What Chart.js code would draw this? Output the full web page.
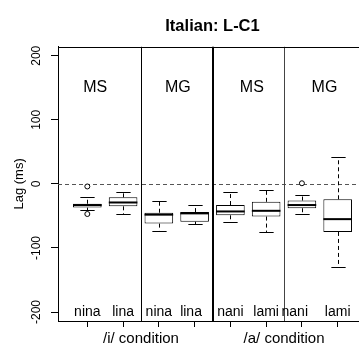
<!DOCTYPE html>
<html>
<head>
<meta charset="utf-8">
<script src="https://cdn.jsdelivr.net/npm/chart.js@4"></script>
<style>
  html, body { margin: 0; padding: 0; background: #fff; overflow: hidden; width: 359px; height: 345px; }
  canvas { display: block; }
</style>
</head>
<body>
<!-- the original plot runs past the right edge of the picture, so the canvas is wider and clipped -->
<canvas id="chart" width="372" height="345"></canvas>
<script>
// box positions and the word under each box
const positions = [1, 2, 3, 4, 5, 6, 7, 8];
const words = ['nina', 'lina', 'nina', 'lina', 'nani', 'lami', 'nani', 'lami'];
const wordPos = [1, 2, 3, 3.9, 5, 6, 6.8, 8];

// five-number summaries (ms)
const lowWhisker  = [-41, -47, -73, -63, -59, -75, -47, -129];
const lowerQ      = [-37, -35, -62, -59, -49, -51, -38, -75];
const medians     = [-33, -29, -48, -46, -43, -42, -33, -55];
const upperQ      = [-31, -21, -45, -44, -33, -28, -26, -24];
const highWhisker = [-21, -12, -26, -33, -12, -10, -17, 42];
const outliers = [{ x: 1, y: -4 }, { x: 1, y: -47 }, { x: 7, y: 1 }];

const blockLabels = ['MS', 'MG', 'MS', 'MG'];
const blockPos = [1.22, 3.53, 5.6, 7.63];
const blockY = 150;
const wordY = -200;
const dividers = [2.5, 4.5, 6.5];
const groupLabels = ['/i/ condition', '/a/ condition'];
const groupPos = [2.5, 6.5];
const yTicks = [-200, -100, 0, 100, 200];

const FONT = 'Liberation Sans, Arial, Helvetica, sans-serif';

const boxParts = {
  id: 'boxParts',
  beforeDatasetsDraw(chart) {
    const { ctx, chartArea: a, scales: { x, y } } = chart;
    const bars = chart.getDatasetMeta(0).data;
    ctx.save();
    ctx.lineWidth = 1;
    // dashed zero line
    ctx.strokeStyle = '#555';
    ctx.setLineDash([4, 3]);
    const y0 = Math.round(y.getPixelForValue(0)) + 0.5;
    ctx.beginPath(); ctx.moveTo(a.left, y0); ctx.lineTo(a.right, y0); ctx.stroke();
    // whiskers
    ctx.strokeStyle = '#000';
    positions.forEach((p, i) => {
      const px = Math.round(x.getPixelForValue(p)) + 0.5;
      ctx.setLineDash([4, 3]);
      ctx.beginPath();
      ctx.moveTo(px, y.getPixelForValue(upperQ[i])); ctx.lineTo(px, y.getPixelForValue(highWhisker[i]));
      ctx.moveTo(px, y.getPixelForValue(lowerQ[i])); ctx.lineTo(px, y.getPixelForValue(lowWhisker[i]));
      ctx.stroke();
      ctx.setLineDash([]);
      const half = bars[i].width / 4;
      ctx.beginPath();
      [highWhisker[i], lowWhisker[i]].forEach(v => {
        const py = Math.round(y.getPixelForValue(v)) + 0.5;
        ctx.moveTo(px - half, py); ctx.lineTo(px + half, py);
      });
      ctx.stroke();
    });
    ctx.restore();
  },
  afterDatasetsDraw(chart) {
    const { ctx, chartArea: a, scales: { x, y } } = chart;
    const bars = chart.getDatasetMeta(0).data;
    ctx.save();
    // medians
    ctx.strokeStyle = '#000';
    ctx.lineWidth = 2;
    positions.forEach((p, i) => {
      const px = x.getPixelForValue(p);
      const py = y.getPixelForValue(medians[i]);
      const w = bars[i].width / 2;
      ctx.beginPath(); ctx.moveTo(px - w, py); ctx.lineTo(px + w, py); ctx.stroke();
    });
    // block dividers and the rest of the frame
    dividers.forEach((d, i) => {
      ctx.lineWidth = i === 1 ? 2 : 1;
      ctx.strokeStyle = i === 2 ? '#444' : '#000';
      const px = Math.round(x.getPixelForValue(d)) + (i === 1 ? 0 : 0.5);
      ctx.beginPath(); ctx.moveTo(px, a.top); ctx.lineTo(px, a.bottom); ctx.stroke();
    });
    ctx.lineWidth = 1;
    ctx.strokeStyle = '#000';
    ctx.beginPath();
    ctx.moveTo(a.left, Math.round(a.top) + 0.5);
    ctx.lineTo(a.right - 0.5, Math.round(a.top) + 0.5);
    ctx.lineTo(a.right - 0.5, a.bottom);
    ctx.stroke();
    // labels inside the plot
    ctx.fillStyle = '#000';
    ctx.textAlign = 'center';
    ctx.textBaseline = 'middle';
    ctx.font = '16px ' + FONT;
    blockLabels.forEach((t, i) => ctx.fillText(t, x.getPixelForValue(blockPos[i]), y.getPixelForValue(blockY)));
    ctx.font = '14px ' + FONT;
    words.forEach((t, i) => ctx.fillText(t, x.getPixelForValue(wordPos[i]), y.getPixelForValue(wordY)));
    // group labels under the axis
    ctx.font = '15px ' + FONT;
    groupLabels.forEach((t, i) => ctx.fillText(t, x.getPixelForValue(groupPos[i]), a.bottom + 18));
    ctx.restore();
  }
};

new Chart(document.getElementById('chart'), {
  type: 'bar',
  data: {
    datasets: [{
      type: 'bar',
      data: positions.map((p, i) => ({ x: p, y: [lowerQ[i], upperQ[i]] })),
      backgroundColor: '#fff',
      borderColor: '#000',
      borderWidth: 1,
      borderSkipped: false,
      barPercentage: 1,
      categoryPercentage: 0.8
    }, {
      type: 'scatter',
      data: outliers,
      pointRadius: 2.5,
      pointBackgroundColor: '#fff',
      pointBorderColor: '#000',
      pointBorderWidth: 1
    }]
  },
  options: {
    responsive: false,
    animation: false,
    layout: { padding: 0 },
    plugins: {
      legend: { display: false },
      tooltip: { enabled: false },
      title: {
        display: true,
        text: 'Italian: L-C1',
        color: '#000',
        fullSize: false,
        font: { family: FONT, size: 16.5, weight: 'bold' },
        padding: { top: 17, bottom: 10 }
      }
    },
    scales: {
      x: {
        type: 'linear',
        position: 'bottom',
        offset: false,
        min: 0.18,
        max: 8.82,
        grid: { display: true, offset: false, drawOnChartArea: false, tickLength: 6, color: '#000' },
        border: { display: true, color: '#000' },
        ticks: { display: false },
        afterBuildTicks: s => { s.ticks = positions.map(v => ({ value: v })); },
        afterFit: s => { s.height = 24; }
      },
      y: {
        type: 'linear',
        min: -214,
        max: 214,
        grid: { display: true, drawOnChartArea: false, tickLength: 7, color: '#000' },
        border: { display: true, color: '#000' },
        ticks: {
          color: '#000',
          font: { family: FONT, size: 12 },
          minRotation: 90,
          maxRotation: 90,
          crossAlign: 'center',
          padding: 2
        },
        afterBuildTicks: s => { s.ticks = yTicks.map(v => ({ value: v })); },
        title: {
          display: true,
          text: 'Lag (ms)',
          color: '#000',
          font: { family: FONT, size: 13 },
          padding: { top: 12, bottom: 0 }
        },
        afterFit: s => { s.width = 58; }
      }
    }
  },
  plugins: [boxParts]
});
</script>
</body>
</html>
